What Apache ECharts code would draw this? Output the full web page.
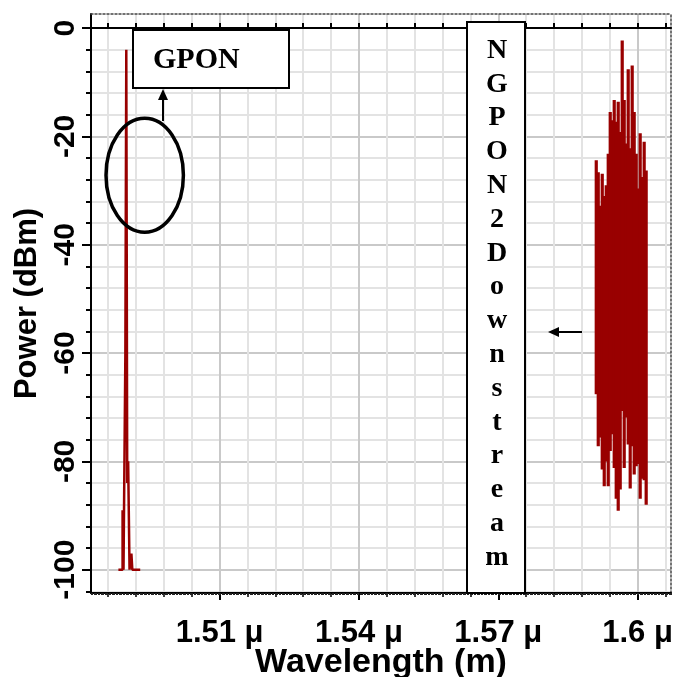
<!DOCTYPE html>
<html>
<head><meta charset="utf-8"></head>
<script type="text/javascript" src="https://cdn.jsdelivr.net/npm/echarts@6/dist/echarts.min.js"></script>
<body style="margin:0;background-color:#ffffff;">
    <!-- chart container, same size as the window -->
    <div id="main" style="width:674px;height:677px;"></div>
</body>

<script type="text/javascript">
var RED = '#990000'
var XMIN = 1.4823, XMAX = 1.6072
var YMIN = -104.3, YMAX = 2.6

// tick positions
var xMajor = [1.51, 1.54, 1.57, 1.6]
var xMinor = [1.486, 1.492, 1.498, 1.504, 1.516, 1.522, 1.528, 1.534, 1.546, 1.552, 1.558, 1.564, 1.576, 1.582, 1.588, 1.594, 1.606]
var yMajor = [0, -20, -40, -60, -80, -100]
var yMinor = [-4, -8, -12, -16, -24, -28, -32, -36, -44, -48, -52, -56, -64, -68, -72, -76, -84, -88, -92, -96, -104]

// GPON downstream (1490 nm), traced outline
var gponWl  = [1.4882, 1.4891, 1.4891, 1.4893, 1.4893, 1.4897, 1.4897, 1.4899, 1.4899, 1.4901, 1.4901, 1.4903, 1.4903, 1.4906, 1.4906, 1.4910, 1.4910, 1.4912, 1.4912, 1.4929]
var gponDbm = [-100, -100, -89, -89, -100, -100, -60, -60, -4, -4, -84, -84, -80, -80, -100, -100, -97, -97, -100, -100]

// NGPON2 downstream band: bin left edge, top and bottom of the trace
var BIN = 0.00043
var ngponWl   = [1.59076, 1.59119, 1.59162, 1.59205, 1.59248, 1.59291, 1.59334, 1.59377, 1.59420, 1.59463, 1.59506, 1.59549, 1.59592,
                 1.59635, 1.59678, 1.59721, 1.59764, 1.59807, 1.59850, 1.59893, 1.59936, 1.59979, 1.60022, 1.60065, 1.60108, 1.60151]
var ngponHigh = [-24.4, -26.6, -32.8, -26.9, -31.0, -29.0, -23.2, -15.5, -17.0, -13.3, -17.3, -13.6, -19.2,
                 -2.3, -13.3, -21.3, -7.6, -22.2, -6.9, -15.5, -23.2, -29.6, -19.4, -27.5, -21.0, -26.3]
var ngponLow  = [-67.6, -77.2, -75.6, -81.5, -84.6, -80.0, -84.6, -78.1, -75.0, -81.2, -86.9, -89.1, -85.2,
                 -70.7, -81.2, -71.9, -76.9, -85.0, -77.2, -82.4, -80.9, -80.5, -86.9, -83.2, -83.5, -88.0]

var ngponLetters = ['N', 'G', 'P', 'O', 'N', '2', 'D', 'o', 'w', 'n', 's', 't', 'r', 'e', 'a', 'm']

var gponData = []
for (var i = 0; i < gponWl.length; i++) {
    gponData.push([gponWl[i], gponDbm[i]])
}
var ngponData = []
for (var j = 0; j < ngponWl.length; j++) {
    ngponData.push([ngponWl[j], ngponHigh[j], ngponLow[j]])
}

var SANS = '"Liberation Sans", Arial, sans-serif'
var SERIF = '"Liberation Serif", "Times New Roman", serif'

var myChart = echarts.init(document.getElementById('main'))

var option = {
    animation: false,
    textStyle: { fontFamily: SANS },
    grid: { left: 91, right: 3, top: 14, bottom: 84, containLabel: false, outerBoundsMode: 'none' },
    xAxis: [
        {   // minor grid
            type: 'value', position: 'bottom', min: XMIN, max: XMAX,
            axisLine: { show: false, onZero: false },
            axisTick: { show: true, customValues: xMinor, length: 4, lineStyle: { color: '#000', width: 1.5 } },
            axisLabel: { show: false },
            splitLine: { show: true, lineStyle: { color: '#e3e3e3', width: 2 } }
        },
        {   // main axis
            type: 'value', position: 'bottom', min: XMIN, max: XMAX,
            name: 'Wavelength (m)', nameLocation: 'middle', nameGap: 53, nameMoveOverlap: false,
            nameTextStyle: { fontSize: 34, fontWeight: 'bold', color: '#000' },
            axisLine: { show: true, onZero: false, lineStyle: { color: '#000', width: 2 } },
            axisTick: { show: true, customValues: xMajor, length: 7, lineStyle: { color: '#000', width: 2 } },
            axisLabel: {
                customValues: xMajor, margin: 25, fontSize: 31, fontWeight: 'bold', color: '#000',
                formatter: function (v) { return v + ' μ' }
            },
            splitLine: { show: true, lineStyle: { color: '#c9c9c9', width: 2 } }
        },
        {   // dotted frame on top
            type: 'value', position: 'top', min: XMIN, max: XMAX,
            axisLine: { show: true, onZero: false, lineStyle: { color: '#444', width: 1.5, type: [2, 2] } },
            axisTick: { show: false }, axisLabel: { show: false }, splitLine: { show: false }
        },
        {   // solid line at 0 dBm
            type: 'value', position: 'top', min: XMIN, max: XMAX,
            axisLine: { show: true, onZero: true, onZeroAxisIndex: 1, lineStyle: { color: '#000', width: 2 } },
            axisTick: { show: true, customValues: xMinor.concat(xMajor), length: 5, lineStyle: { color: '#000', width: 2 } },
            axisLabel: { show: false }, splitLine: { show: false }
        },
        {   // fine comb under the bottom axis
            type: 'value', position: 'bottom', min: XMIN, max: XMAX, interval: 0.0003,
            axisLine: { show: false, onZero: false },
            axisTick: { show: true, length: 2, lineStyle: { color: '#222', width: 1 } },
            axisLabel: { show: false }, splitLine: { show: false }
        }
    ],
    yAxis: [
        {   // minor grid
            type: 'value', position: 'left', min: YMIN, max: YMAX,
            axisLine: { show: false, onZero: false },
            axisTick: { show: true, customValues: yMinor, length: 5, lineStyle: { color: '#000', width: 2 } },
            axisLabel: { show: false },
            splitLine: { show: true, lineStyle: { color: '#e3e3e3', width: 2 } }
        },
        {   // main axis
            type: 'value', position: 'left', min: YMIN, max: YMAX,
            name: 'Power (dBm)', nameLocation: 'middle', nameGap: 48,
            nameTextStyle: { fontSize: 31, fontWeight: 'bold', color: '#000' },
            axisLine: { show: true, onZero: false, lineStyle: { color: '#000', width: 2 } },
            axisTick: { show: true, customValues: yMajor, length: 9, lineStyle: { color: '#000', width: 2 } },
            axisLabel: { customValues: yMajor, rotate: 90, margin: 10, fontSize: 30, fontWeight: 'bold', color: '#000' },
            splitLine: { show: true, lineStyle: { color: '#c9c9c9', width: 2 } }
        },
        {   // dotted frame on the right
            type: 'value', position: 'right', min: YMIN, max: YMAX,
            axisLine: { show: true, onZero: false, lineStyle: { color: '#444', width: 1.5, type: [2, 2] } },
            axisTick: { show: false }, axisLabel: { show: false }, splitLine: { show: false }
        }
    ],
    series: [
        {
            name: 'GPON', type: 'line', xAxisIndex: 1, yAxisIndex: 1,
            data: gponData, showSymbol: false, symbol: 'none', clip: true,
            lineStyle: { color: RED, width: 2.5 }
        },
        {
            name: 'NGPON2', type: 'custom', xAxisIndex: 1, yAxisIndex: 1, clip: true,
            data: ngponData,
            encode: { x: 0, y: [1, 2] },
            renderItem: function (params, api) {
                var p1 = api.coord([api.value(0), api.value(1)])
                var p2 = api.coord([api.value(0) + BIN, api.value(2)])
                return {
                    type: 'rect',
                    shape: { x: p1[0], y: p1[1], width: p2[0] - p1[0] + 1.2, height: p2[1] - p1[1] },
                    style: { fill: RED }
                }
            }
        }
    ],
    graphic: [
        { type: 'ellipse', z: 100, shape: { cx: 144.7, cy: 175.3, rx: 38.7, ry: 57 },
          style: { fill: 'none', stroke: '#000', lineWidth: 3.5 } },
        { type: 'rect', z: 100, shape: { x: 133, y: 30, width: 156, height: 58 },
          style: { fill: '#fff', stroke: '#000', lineWidth: 2 } },
        { type: 'text', z: 101, x: 153, y: 60,
          style: { text: 'GPON', font: 'bold 30px ' + SERIF, fill: '#000',
                   align: 'left', textAlign: 'left', verticalAlign: 'middle', textVerticalAlign: 'middle' } },
        { type: 'line', z: 100, shape: { x1: 163, y1: 121, x2: 163, y2: 98 },
          style: { stroke: '#000', lineWidth: 2 } },
        { type: 'polygon', z: 100, shape: { points: [[163, 89], [158, 100], [168, 100]] },
          style: { fill: '#000' } },
        { type: 'rect', z: 100, shape: { x: 467, y: 22, width: 58, height: 571 },
          style: { fill: '#fff', stroke: '#000', lineWidth: 2 } },
        { type: 'text', z: 101, x: 497, y: 304,
          style: { text: ngponLetters.join('\n'), font: 'bold 28px ' + SERIF, fill: '#000', lineHeight: 33.8,
                   align: 'center', textAlign: 'center', verticalAlign: 'middle', textVerticalAlign: 'middle' } },
        { type: 'line', z: 100, shape: { x1: 582, y1: 332, x2: 557, y2: 332 },
          style: { stroke: '#000', lineWidth: 2 } },
        { type: 'polygon', z: 100, shape: { points: [[548, 332], [559, 327], [559, 337]] },
          style: { fill: '#000' } }
    ]
}

myChart.setOption(option)
</script>
</html>
